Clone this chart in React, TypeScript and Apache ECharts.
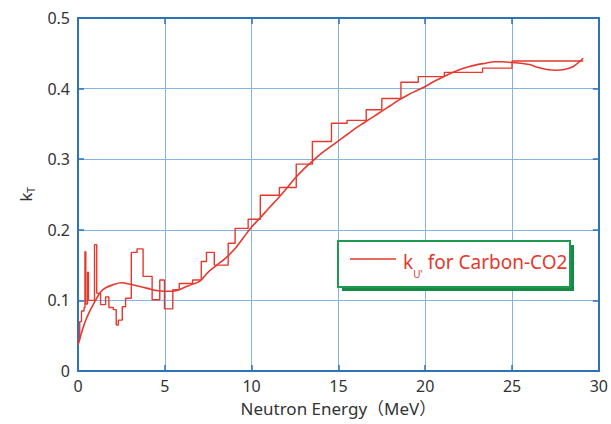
import React, { useEffect, useRef } from "react";
import * as echarts from "echarts";

// Calculated (smooth) kerma factor curve
const energyCalc = [0, 0.1, 0.3, 0.5, 0.7, 0.9, 1.1, 1.3, 1.6, 2.0, 2.5, 3.0, 3.5, 4.0, 4.5, 5.0, 5.5, 6.0, 6.5, 7.0, 7.5, 8.0, 8.5, 9.0, 9.5, 10, 10.5, 11, 11.5, 12, 12.5, 13, 13.5, 14, 14.5, 15, 15.5, 16, 16.5, 17, 17.5, 18, 18.5, 19, 19.5, 20, 20.5, 21, 21.5, 22, 22.5, 23, 23.5, 24, 24.5, 25, 25.5, 26, 26.5, 27, 27.5, 28, 28.5, 29.1];
const kCalc = [0.037, 0.045, 0.062, 0.075, 0.086, 0.095, 0.104, 0.112, 0.118, 0.122, 0.125, 0.123, 0.12, 0.117, 0.114, 0.113, 0.113, 0.117, 0.122, 0.127, 0.14, 0.15, 0.16, 0.172, 0.188, 0.204, 0.217, 0.231, 0.244, 0.258, 0.273, 0.286, 0.297, 0.308, 0.317, 0.326, 0.335, 0.344, 0.352, 0.36, 0.368, 0.376, 0.384, 0.391, 0.397, 0.403, 0.41, 0.416, 0.422, 0.427, 0.431, 0.434, 0.436, 0.438, 0.438, 0.437, 0.436, 0.434, 0.43, 0.427, 0.426, 0.427, 0.431, 0.443];

// Group-wise (histogram) kerma factors: bin edges and values
const binEdges = [0, 0.1, 0.2, 0.35, 0.4, 0.45, 0.55, 0.6, 0.95, 1.08, 1.3, 1.59, 1.78, 2.03, 2.2, 2.32, 2.55, 2.74, 3.07, 3.4, 3.75, 4.27, 4.71, 4.98, 5.46, 5.83, 6.6, 7.1, 7.4, 7.85, 8.65, 9.05, 9.8, 10.5, 11.6, 12.57, 13.5, 14.6, 15.5, 16.6, 17.5, 18.6, 19.6, 21.1, 23.3, 25.0, 29.1];
const kBins = [0.045, 0.07, 0.085, 0.09, 0.169, 0.095, 0.14, 0.1, 0.179, 0.11, 0.094, 0.105, 0.09, 0.087, 0.065, 0.072, 0.091, 0.103, 0.168, 0.173, 0.134, 0.101, 0.129, 0.088, 0.115, 0.124, 0.129, 0.155, 0.168, 0.15, 0.181, 0.202, 0.215, 0.249, 0.26, 0.293, 0.325, 0.351, 0.355, 0.37, 0.386, 0.409, 0.417, 0.423, 0.429, 0.439];

const legendLabel = "k{s|U'}{t| for Carbon-CO2}";
const xName = "Neutron Energy（MeV）";
const yName = "k{s|T}";

const RED = "#e5392e";
const FRAME = "#2e72b8";
const GRIDC = "#86b3e0";
const FONT = "'Noto Sans', 'Noto Sans CJK JP', sans-serif";

export default function App() {
  const ref = useRef<HTMLDivElement>(null);
  useEffect(() => {
    if (!ref.current) return;
    const chart = echarts.init(ref.current, null, { renderer: "svg" });
    const calcData = energyCalc.map((e, i) => [e, kCalc[i]]);
    const stepData: number[][] = [];
    kBins.forEach((v, i) => {
      stepData.push([binEdges[i], v]);
      stepData.push([binEdges[i + 1], v]);
    });
    const frameAxis = {
      axisLine: { show: true, onZero: false, lineStyle: { color: FRAME, width: 2 } },
      axisTick: { show: true, inside: true, length: 6, lineStyle: { color: FRAME, width: 1.5 } },
    };
    chart.setOption({
      animation: false,
      backgroundColor: "#ffffff",
      grid: { left: 78, right: 11, top: 18, bottom: 53, containLabel: false },
      xAxis: [
        {
          type: "value", min: 0, max: 30, interval: 5, position: "bottom",
          ...frameAxis,
          axisLabel: { color: "#333", fontSize: 16, margin: 7, fontFamily: FONT },
          splitLine: { show: true, lineStyle: { color: GRIDC, width: 1 } },
          name: xName, nameLocation: "middle", nameGap: 29,
          nameTextStyle: { color: "#333", fontSize: 17, fontFamily: FONT },
        },
        {
          type: "value", min: 0, max: 30, interval: 5, position: "top",
          ...frameAxis,
          axisLabel: { show: false }, splitLine: { show: false },
        },
      ],
      yAxis: [
        {
          type: "value", min: 0, max: 0.5, interval: 0.1, position: "left",
          ...frameAxis,
          axisLabel: {
            color: "#333", fontSize: 16, margin: 8, fontFamily: FONT,
            formatter: (v: number) => (v === 0 ? "0" : v.toFixed(1)),
          },
          splitLine: { show: true, lineStyle: { color: GRIDC, width: 1 } },
          name: yName, nameLocation: "middle", nameGap: 42, nameRotate: 90,
          nameTextStyle: {
            color: "#333", fontSize: 17, fontFamily: FONT, lineHeight: 22,
            rich: { s: { fontSize: 10, color: "#333", fontFamily: FONT, lineHeight: 8, verticalAlign: "bottom" } },
          },
        },
        {
          type: "value", min: 0, max: 0.5, interval: 0.1, position: "right",
          ...frameAxis,
          axisLabel: { show: false }, splitLine: { show: false },
        },
      ],
      series: [
        {
          name: "calc", type: "line", data: calcData, symbol: "none", smooth: 0.35,
          lineStyle: { color: RED, width: 1.6 }, z: 5,
        },
        {
          name: "bins", type: "line", data: stepData, symbol: "none",
          lineStyle: { color: RED, width: 1.4 }, z: 5,
        },
      ],
      graphic: [
        { type: "rect", z: 20, shape: { x: 342, y: 245, width: 232, height: 46 }, style: { fill: "#178a43" } },
        { type: "rect", z: 21, shape: { x: 338, y: 241, width: 232, height: 46 }, style: { fill: "#ffffff", stroke: "#1d9a4f", lineWidth: 2 } },
        { type: "line", z: 22, shape: { x1: 350, y1: 259, x2: 396, y2: 259 }, style: { stroke: RED, lineWidth: 1.6 } },
        {
          type: "text", z: 22, x: 403, y: 262,
          style: {
            text: legendLabel, fill: RED, fontSize: 19, fontFamily: FONT,
            verticalAlign: "middle", lineHeight: 34,
            rich: {
              s: { fontSize: 10, fill: RED, fontFamily: FONT, lineHeight: 10, verticalAlign: "bottom" },
              t: { fontSize: 19, fill: RED, fontFamily: FONT, lineHeight: 34 },
            },
          },
        },
      ],
    });
    return () => chart.dispose();
  }, []);
  return <div ref={ref} style={{ position: "fixed", left: 0, top: 0, width: 611, height: 424 }} />;
}
